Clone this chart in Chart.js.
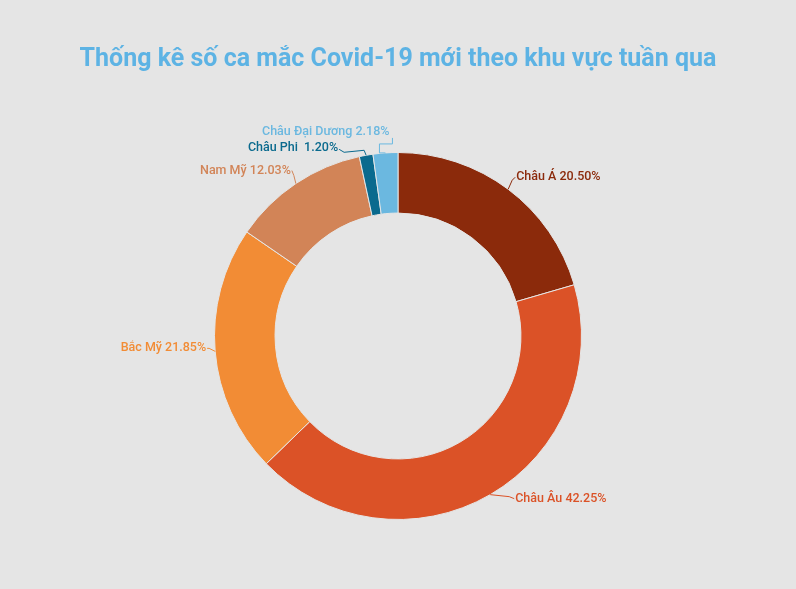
<!DOCTYPE html>
<html><head><meta charset="utf-8">
<script src="https://cdn.jsdelivr.net/npm/chart.js@4"></script>
<style>html,body{margin:0;background:#e5e5e5;}#w{width:796px;height:589px;position:relative}</style>
</head><body><div id="w"><canvas id="c"></canvas></div>
<script>
const categories = ["Châu Á","Châu Âu","Bắc Mỹ","Nam Mỹ","Châu Phi","Châu Đại Dương"];
const values = [20.50, 42.25, 21.85, 12.03, 1.20, 2.18];
const valueLabels = ["20.50%","42.25%","21.85%","12.03%"," 1.20%","2.18%"];
const colors = ["#8b2a0b","#db5227","#f28c35","#d28457","#0a6a8e","#6bb8e0"];
const titleText = "Thống kê số ca mắc Covid-19 mới theo khu vực tuần qua";

// leader geometry relative to arc midpoint (styling)
const leaders = [
  {pts:[[4,-9],[7,-12]], text:[8,-12], align:"left"},
  {pts:[[19,2],[24,4]], text:[25,4], align:"left"},
  {pts:[[-6,-3],[-8,-3]], text:[-9,-3], align:"right"},
  {pts:[[-2,-8],[-4,-13]], text:[-5,-13], align:"right"},
  {pts:[[-2,-5],[-22,-3],[-27,-6]], text:[-28,-7], align:"right"},
  {pts:[[-6,0],[-6,-9],[7,-9],[7,-15]], text:[4,-21], align:"right"}
];

const labelPlugin = {
  id:"lbl",
  afterDatasetsDraw(chart){
    const ctx = chart.ctx;
    const meta = chart.getDatasetMeta(0);
    meta.data.forEach((arc,i)=>{
      const a = (arc.startAngle+arc.endAngle)/2;
      const r = arc.outerRadius;
      const x0 = arc.x + Math.cos(a)*r, y0 = arc.y + Math.sin(a)*r;
      const L = leaders[i];
      ctx.save();
      ctx.strokeStyle = colors[i]; ctx.lineWidth = 1;
      ctx.beginPath(); ctx.moveTo(x0,y0);
      L.pts.forEach(p=>ctx.lineTo(x0+p[0],y0+p[1]));
      ctx.stroke();
      ctx.fillStyle = colors[i];
      ctx.font = "500 12.5px Roboto";
      ctx.textAlign = L.align; ctx.textBaseline = "middle";
      ctx.fillText(categories[i]+" "+valueLabels[i], x0+L.text[0], y0+L.text[1]);
      ctx.restore();
    });
  }
};

new Chart(document.getElementById("c"),{
  type:"doughnut",
  data:{labels:categories,datasets:[{data:values,backgroundColor:colors,borderColor:"#e5e5e5",borderWidth:1}]},
  options:{
    responsive:true, maintainAspectRatio:false, animation:false,
    cutout:"67%",
    layout:{padding:{top:26,bottom:69}},
    plugins:{
      legend:{display:false}, tooltip:{enabled:false},
      title:{display:true,text:titleText,color:"#5db3e4",font:{family:"Roboto",size:25,weight:"bold"},padding:{top:19,bottom:77}}
    }
  },
  plugins:[labelPlugin]
});
</script></body></html>
